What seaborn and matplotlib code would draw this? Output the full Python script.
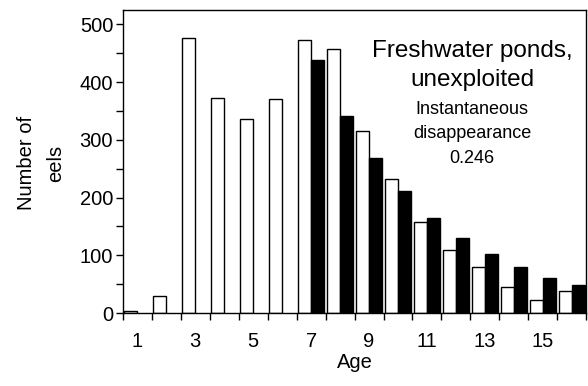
import numpy as np
import pandas as pd
import matplotlib
matplotlib.use("Agg")
import matplotlib.pyplot as plt
import seaborn as sns

ages = list(range(1, 17))
observed = [3, 30, 476, 372, 337, 370, 473, 457, 315, 232, 157, 110, 80, 45, 22, 39]
fitted = [np.nan] * 6 + [438, 342, 269, 211, 165, 130, 102, 80, 61, 48]
xtick_labels = ["1", "3", "5", "7", "9", "11", "13", "15"]

sns.set_theme(style="white")
plt.rcParams['font.family'] = ['Liberation Sans', 'DejaVu Sans']
plt.rcParams.update({"text.color": "black", "axes.labelcolor": "black",
                     "xtick.color": "black", "ytick.color": "black"})

df = pd.DataFrame({
    "Age": [str(a) for a in ages] * 2,
    "Series": ["observed"] * len(ages) + ["fitted"] * len(ages),
    "Count": observed + fitted,
})

fig, ax = plt.subplots(figsize=(5.88, 3.86), dpi=100)
fig.subplots_adjust(left=0.209, right=0.997, bottom=0.189, top=0.974)

sns.barplot(data=df, x="Age", y="Count", hue="Series",
            hue_order=["observed", "fitted"],
            palette={"observed": "white", "fitted": "black"},
            order=[str(a) for a in ages],
            width=0.9, edgecolor="black", linewidth=1.0,
            errorbar=None, legend=False, ax=ax, saturation=1)

fs = 14.5
ax.set_xlim(-0.5, 15.5)
ax.set_ylim(0, 525)
ax.set_xticks(range(0, 16, 2))
ax.set_xticklabels(xtick_labels, fontsize=fs)
ax.set_xticks(np.arange(-0.5, 16, 1), minor=True)
ax.tick_params(axis="x", which="major", length=0, pad=14)
ax.tick_params(axis="x", which="minor", length=5, width=1, color="black", direction="out", bottom=True)
ax.set_yticks(range(0, 501, 100))
ax.set_yticklabels([str(v) for v in range(0, 501, 100)], fontsize=fs)
ax.set_yticks(range(50, 501, 100), minor=True)
ax.tick_params(axis="y", which="both", length=5, width=1, color="black", direction="out", left=True, pad=2)

for s in ax.spines.values():
    s.set_color("black")
    s.set_linewidth(1.0)

ax.set_xlabel("Age", fontsize=fs, labelpad=1)
ax.set_ylabel("")
fig.text(41 / 588, 1 - 163 / 386, "Number of\neels", rotation=90, ha="center", va="center",
         fontsize=fs, multialignment="center", linespacing=1.65)

fig.text(472 / 588, 1 - 40 / 386, "Freshwater ponds,\nunexploited", ha="center", va="top",
         fontsize=17.5, multialignment="center", linespacing=1.4)
fig.text(472 / 588, 1 - 134 / 386, "Instantaneous\ndisappearance\n0.246", ha="center", va="center",
         fontsize=13, multialignment="center", linespacing=1.55)

fig.savefig("out.png", dpi=100)
